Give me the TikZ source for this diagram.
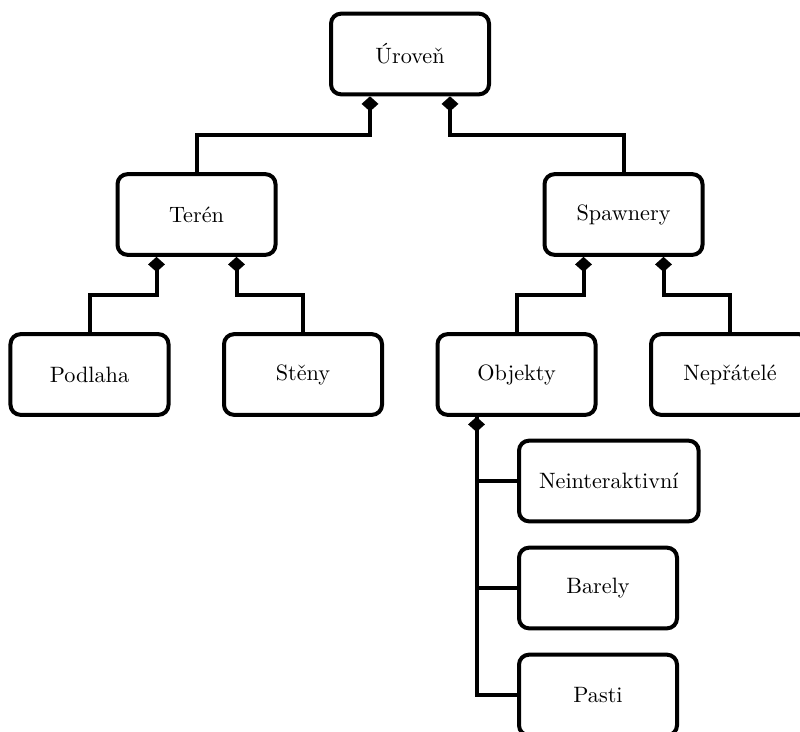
\documentclass[tikz,border=0pt]{standalone}
\usetikzlibrary{arrows.meta,calc}
\tikzset{
  box/.style={draw, line width=1.8pt, rounded corners=4.5pt,
    minimum width=71.1pt, minimum height=36.3pt, inner xsep=9pt, align=center},
  link/.style={line width=1.8pt},
  comp/.style={link, {Diamond[length=6.8pt,width=7.6pt,line width=0pt]}-},
}
\begin{document}
\begin{tikzpicture}[x=0.45pt,y=-0.45pt]
\useasboundingbox (0,0) rectangle (800,731);

% level tree
\node[box] (uroven)    at (410,54)    {Úroveň};
\node[box] (teren)     at (196.5,214.5) {Terén};
\node[box] (spawnery)  at (623.5,214.5) {Spawnery};
\node[box] (podlaha)   at (89.5,374.5)  {Podlaha};
\node[box] (steny)     at (303,374.5)   {Stěny};
\node[box] (objekty)   at (516.5,374.5) {Objekty};
\node[box] (nepratele) at (730,374.5)   {Nepřátelé};

% object kinds
\node[box, anchor=west] (neint)  at (517,481)   {Neinteraktivní};
\node[box, anchor=west] (barely) at (517,588)   {Barely};
\node[box, anchor=west] (pasti)  at (517,695) {Pasti};

% compositions
\draw[comp] ($(uroven.south)+(-40,0)$) -- ++(0,39) -| (teren.north);
\draw[comp] ($(uroven.south)+(40,0)$) -- ++(0,39) -| (spawnery.north);
\draw[comp] ($(teren.south)+(-40,0)$) -- ++(0,38) -| (podlaha.north);
\draw[comp] ($(teren.south)+(40,0)$) -- ++(0,38) -| (steny.north);
\draw[comp] ($(spawnery.south)+(-40,0)$) -- ++(0,38) -| (objekty.north);
\draw[comp] ($(spawnery.south)+(40,0)$) -- ++(0,38) -| (nepratele.north);

\draw[comp] ($(objekty.south)+(-40,0)$) coordinate (ob) |- (pasti.west);
\draw[link] (ob) |- (neint.west);
\draw[link] (ob) |- (barely.west);
\end{tikzpicture}
\end{document}
